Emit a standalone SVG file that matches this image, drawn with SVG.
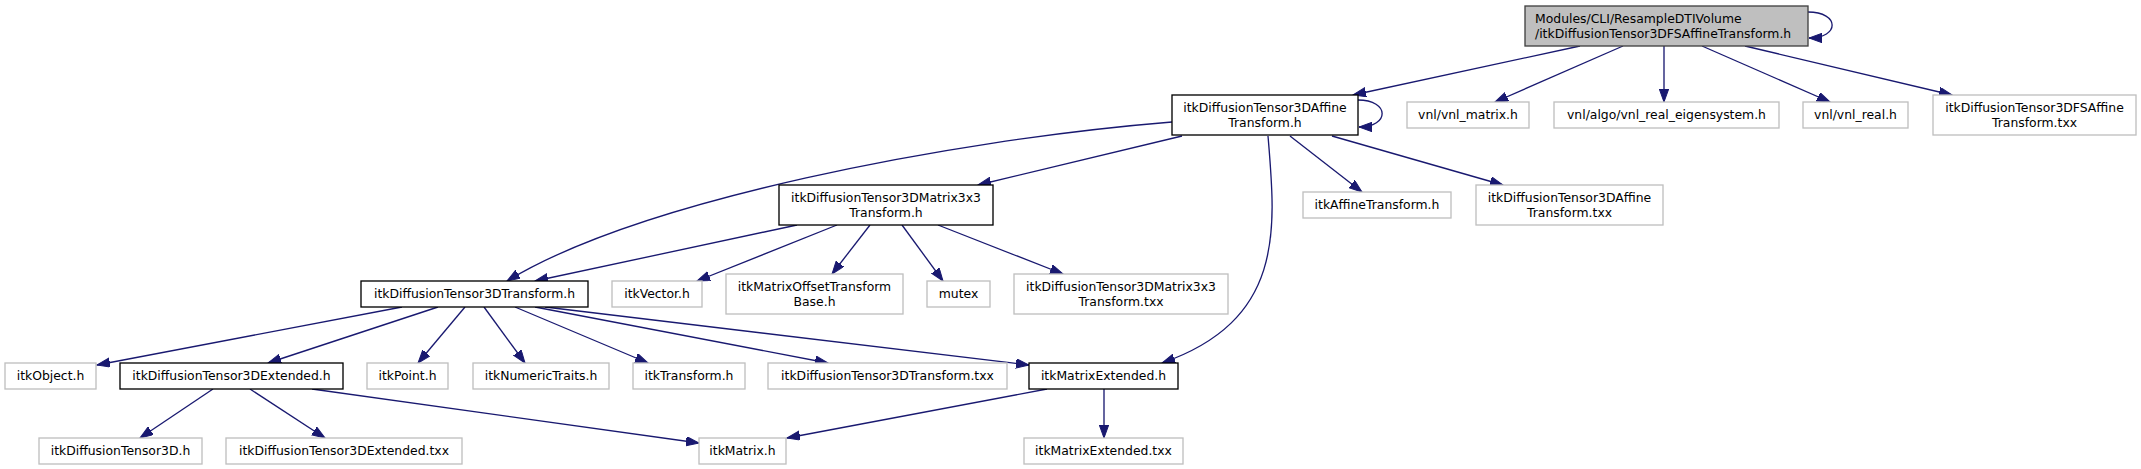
<svg xmlns="http://www.w3.org/2000/svg" width="2141" height="469" viewBox="0 0 2141 469">
<style>
.n rect{fill:#ffffff;stroke:#bfbfbf;stroke-width:1.33}
.d rect{stroke:#000000}
.m rect{fill:#bfbfbf;stroke:#404040}
text{font-family:"DejaVu Sans","Liberation Sans",sans-serif;font-size:12.4px;fill:#000000;text-anchor:middle}
.l text{text-anchor:start}
#edges path{fill:none;stroke:#191970;stroke-width:1.33;marker-end:url(#arr)}
</style>
<defs>
<marker id="arr" markerUnits="userSpaceOnUse" markerWidth="14" markerHeight="10" refX="13" refY="4.7" orient="auto">
<path d="M0,0 L13,4.7 L0,9.4 z" fill="#191970" stroke="#191970" stroke-width="1"/>
</marker>
</defs>
<rect width="2141" height="469" fill="#ffffff"/>
<g id="edges">
<path d="M1580,46 L1353,95"/>
<path d="M1623,46 L1495,102"/>
<path d="M1664,46 L1664,102"/>
<path d="M1702,46 L1830,102"/>
<path d="M1745,46 L1952,95"/>
<path d="M1808,12 C1840,12 1840,38 1809,38"/>
<path d="M1358,100 C1390,100 1390,127 1359,127"/>
<path d="M1182,136 L978,185"/>
<path d="M1172,122 C950,140 640,200 507,281"/>
<path d="M1290,136 L1362,192"/>
<path d="M1332,136 L1503,185"/>
<path d="M1268,136 C1276,230 1285,320 1162,363"/>
<path d="M797,225 L535,281"/>
<path d="M837,225 L697,281"/>
<path d="M870,225 L832,274"/>
<path d="M902,225 L943,281"/>
<path d="M938,225 L1063,274"/>
<path d="M402,307 L97,365"/>
<path d="M438,307 L268,363"/>
<path d="M465,307 L418,363"/>
<path d="M484,307 L525,363"/>
<path d="M515,307 L648,363"/>
<path d="M535,307 L828,363"/>
<path d="M545,307 L1029,365"/>
<path d="M213,389 L140,438"/>
<path d="M250,389 L325,438"/>
<path d="M312,389 L699,443"/>
<path d="M1047,389 L787,438"/>
<path d="M1104,389 L1104,438"/>
</g>
<g id="node-main" class="n m l"><rect x="1525" y="6" width="283" height="40"/><text x="1535" y="23">Modules/CLI/ResampleDTIVolume</text><text x="1535" y="37.5">/itkDiffusionTensor3DFSAffineTransform.h</text></g>
<g id="node-affine-h" class="n d"><rect x="1172" y="95" width="186" height="40"/><text x="1265" y="112">itkDiffusionTensor3DAffine</text><text x="1265" y="126.5">Transform.h</text></g>
<g id="node-vnl-matrix" class="n"><rect x="1407" y="102" width="122" height="26"/><text x="1468" y="119">vnl/vnl_matrix.h</text></g>
<g id="node-vnl-eigen" class="n"><rect x="1554" y="102" width="225" height="26"/><text x="1666.5" y="119">vnl/algo/vnl_real_eigensystem.h</text></g>
<g id="node-vnl-real" class="n"><rect x="1803" y="102" width="105" height="26"/><text x="1855.5" y="119">vnl/vnl_real.h</text></g>
<g id="node-fsaffine-txx" class="n"><rect x="1933" y="95" width="203" height="40"/><text x="2034.5" y="112">itkDiffusionTensor3DFSAffine</text><text x="2034.5" y="126.5">Transform.txx</text></g>
<g id="node-matrix3x3-h" class="n d"><rect x="779" y="185" width="214" height="40"/><text x="886" y="202">itkDiffusionTensor3DMatrix3x3</text><text x="886" y="216.5">Transform.h</text></g>
<g id="node-itkaffine" class="n"><rect x="1303" y="192" width="148" height="26"/><text x="1377" y="209">itkAffineTransform.h</text></g>
<g id="node-affine-txx" class="n"><rect x="1476" y="185" width="187" height="40"/><text x="1569.5" y="202">itkDiffusionTensor3DAffine</text><text x="1569.5" y="216.5">Transform.txx</text></g>
<g id="node-transform-h" class="n d"><rect x="361" y="281" width="227" height="26"/><text x="474.5" y="298">itkDiffusionTensor3DTransform.h</text></g>
<g id="node-vector" class="n"><rect x="612" y="281" width="90" height="26"/><text x="657" y="298">itkVector.h</text></g>
<g id="node-matrixoffset" class="n"><rect x="726" y="274" width="177" height="40"/><text x="814.5" y="291">itkMatrixOffsetTransform</text><text x="814.5" y="305.5">Base.h</text></g>
<g id="node-mutex" class="n"><rect x="927" y="281" width="63" height="26"/><text x="958.5" y="298">mutex</text></g>
<g id="node-matrix3x3-txx" class="n"><rect x="1014" y="274" width="214" height="40"/><text x="1121" y="291">itkDiffusionTensor3DMatrix3x3</text><text x="1121" y="305.5">Transform.txx</text></g>
<g id="node-object" class="n"><rect x="5" y="363" width="91" height="26"/><text x="50.5" y="380">itkObject.h</text></g>
<g id="node-extended-h" class="n d"><rect x="120" y="363" width="223" height="26"/><text x="231.5" y="380">itkDiffusionTensor3DExtended.h</text></g>
<g id="node-point" class="n"><rect x="367" y="363" width="81" height="26"/><text x="407.5" y="380">itkPoint.h</text></g>
<g id="node-numerictraits" class="n"><rect x="473" y="363" width="136" height="26"/><text x="541" y="380">itkNumericTraits.h</text></g>
<g id="node-itktransform" class="n"><rect x="633" y="363" width="112" height="26"/><text x="689" y="380">itkTransform.h</text></g>
<g id="node-transform-txx" class="n"><rect x="768" y="363" width="239" height="26"/><text x="887.5" y="380">itkDiffusionTensor3DTransform.txx</text></g>
<g id="node-matrixextended-h" class="n d"><rect x="1029" y="363" width="149" height="26"/><text x="1103.5" y="380">itkMatrixExtended.h</text></g>
<g id="node-tensor3d" class="n"><rect x="39" y="438" width="163" height="26"/><text x="120.5" y="455">itkDiffusionTensor3D.h</text></g>
<g id="node-extended-txx" class="n"><rect x="226" y="438" width="236" height="26"/><text x="344" y="455">itkDiffusionTensor3DExtended.txx</text></g>
<g id="node-matrix" class="n"><rect x="699" y="438" width="87" height="26"/><text x="742.5" y="455">itkMatrix.h</text></g>
<g id="node-matrixextended-txx" class="n"><rect x="1024" y="438" width="159" height="26"/><text x="1103.5" y="455">itkMatrixExtended.txx</text></g>
</svg>
